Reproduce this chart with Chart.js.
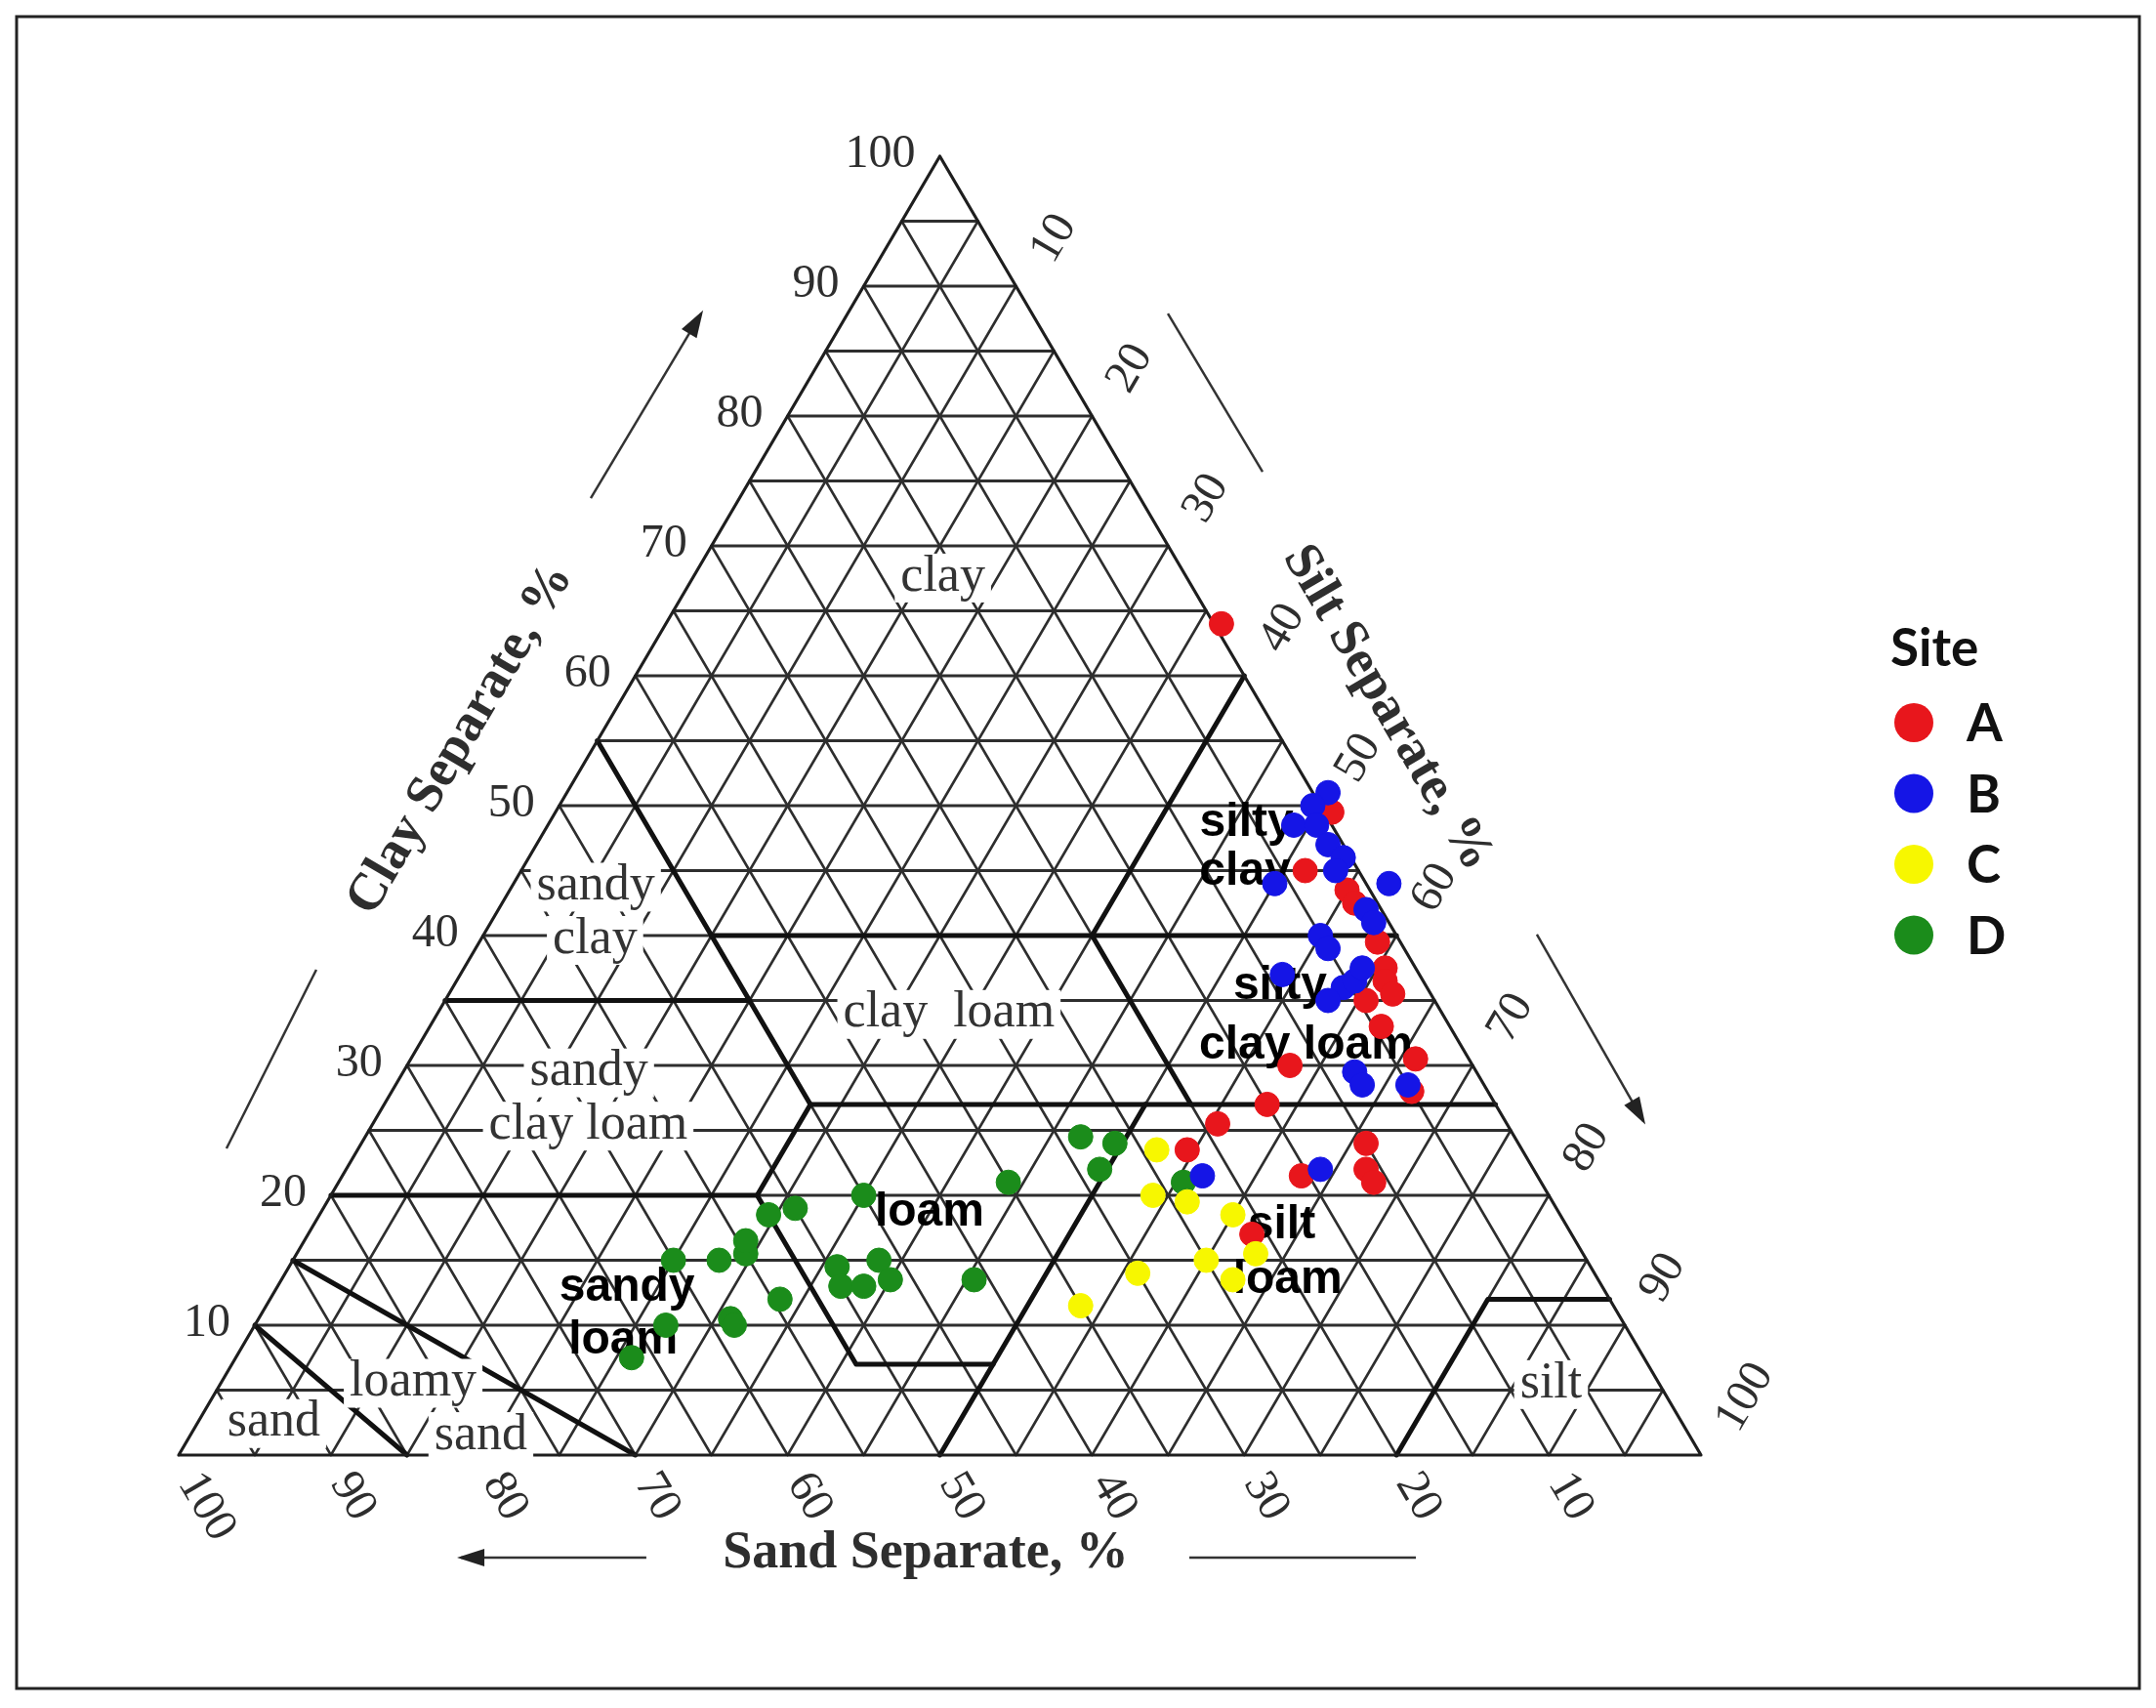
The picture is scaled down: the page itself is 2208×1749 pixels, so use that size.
<!DOCTYPE html>
<html>
<head>
<meta charset="utf-8">
<script src="https://cdn.jsdelivr.net/npm/chart.js@4.4.1/dist/chart.umd.min.js"></script>
<style>
html,body{margin:0;padding:0;background:#fff;overflow:hidden;}
canvas{display:block;}
</style>
</head>
<body>
<canvas id="c" width="2208" height="1749"></canvas>
<script>
// ---------------- DATA (clay %, silt %; sand = 100 - clay - silt) ----------------
const siteNames = ['A', 'B', 'C', 'D'];
const siteColors = ['#e8161c', '#1515e6', '#f7f700', '#1b8c1b'];

const clayA = [64, 45, 43.5, 42.5, 39.5, 49.5, 37.5, 36.5, 35.5, 35, 33, 30.5, 28, 30, 27, 25.5, 23.5, 24, 22, 21, 21.5, 17];
const siltA = [36.5, 51.5, 55, 56, 59, 51, 60.5, 61, 62, 60.5, 62.5, 66, 67, 58, 58, 55.5, 54.5, 66, 67, 68, 63, 62];

const clayB = [51, 50, 48.5, 48.5, 47, 46, 45, 44, 42, 41, 40, 39, 44, 37, 36, 35, 36.5, 37.5, 29.5, 28.5, 28.5, 21.5, 22];
const siltB = [50, 49.5, 49, 50.5, 52, 53.5, 53.5, 57.5, 57, 58, 55, 56, 50, 54, 58.5, 58, 59, 59, 62.5, 63.5, 66.5, 56.5, 64];

const clayC = [23.5, 20, 19.5, 18.5, 15.5, 15, 14, 11.5, 13.5];
const siltC = [52.5, 54, 56.5, 60, 63, 60, 56, 53.5, 62.5];

const clayD = [7.5, 10, 10.5, 10, 15, 15, 15.5, 16.5, 12, 18.5, 19, 14.5, 13, 13, 15, 13.5, 20, 13.5, 21, 24.5, 24, 22, 21];
const siltD = [26, 27, 31, 31.5, 25, 28, 29.5, 29, 33.5, 29.5, 31, 36, 37, 38.5, 38.5, 40, 35, 45.5, 44, 47, 49.5, 49.5, 55.5];

// tick labels on each side of the triangle
const clayTicks = [10, 20, 30, 40, 50, 60, 70, 80, 90, 100];
const siltTicks = [10, 20, 30, 40, 50, 60, 70, 80, 90, 100];
const sandTicks = [10, 20, 30, 40, 50, 60, 70, 80, 90, 100];
const gridSteps = [5, 10, 15, 20, 25, 30, 35, 40, 45, 50, 55, 60, 65, 70, 75, 80, 85, 90, 95];

// USDA texture-class boundaries as [clay, silt] vertices
const classBoundaries = [
  [[10, 0], [0, 15]],
  [[15, 0], [0, 30]],
  [[20, 0], [20, 28], [7, 41], [7, 50]],
  [[0, 50], [27, 50]],
  [[27, 28], [27, 73]],
  [[20, 28], [27, 28]],
  [[27, 28], [55, 0]],
  [[35, 0], [35, 20]],
  [[40, 15], [40, 60]],
  [[40, 40], [60, 40]],
  [[40, 40], [27, 53]],
  [[0, 80], [12, 80], [12, 88]]
];

// texture class names (printed) with [clay, silt] anchor
const classLabels = [
  ['clay', 67.6, 16.4],
  ['sandy', 43.8, 5.5], ['clay', 39.7, 7.5],
  ['clay  loam', 34.0, 33.6],
  ['sandy', 29.5, 12.2], ['clay loam', 25.4, 14.2],
  ['loamy', 5.6, 12.6],
  ['sand', 2.5, 5.0], ['sand', 1.5, 19.1],
  ['silt', 5.5, 87.4]
];
// overlay class names (bold)
const overlayLabels = [
  ['silty', 48.7, 45.8], ['clay', 44.9, 47.6],
  ['silty', 36.1, 54.3], ['clay loam', 31.5, 58.3],
  ['loam', 18.65, 40.0],
  ['sandy', 12.9, 23.0], ['loam', 8.8, 24.8],
  ['silt', 17.7, 63.6], ['loam', 13.5, 66.1]
];

// ---------------- helpers ----------------
function tern(clay, silt) { return { x: silt + clay / 2, y: clay }; }

const datasets = [];
const gridColor = '#2e2e2e';
function lineDs(pts, width, color, order) {
  return {
    data: pts, showLine: true, borderColor: color, borderWidth: width,
    pointRadius: 0, pointHoverRadius: 0, fill: false, order: order,
    clip: false, isDecor: true, borderCapStyle: 'round', borderJoinStyle: 'round'
  };
}
gridSteps.forEach(k => {
  datasets.push(lineDs([tern(k, 0), tern(k, 100 - k)], 3, gridColor, 4));
  datasets.push(lineDs([tern(0, k), tern(100 - k, k)], 2.6, gridColor, 4));
  datasets.push(lineDs([tern(0, 100 - k), tern(100 - k, 0)], 2.6, gridColor, 4));
});
datasets.push(lineDs([tern(0, 0), tern(0, 100), tern(100, 0), tern(0, 0)], 3.2, '#1e1e1e', 3));
classBoundaries.forEach(b => {
  datasets.push(lineDs(b.map(p => tern(p[0], p[1])), 5, '#111', 3));
});

const clayAll = [clayA, clayB, clayC, clayD];
const siltAll = [siltA, siltB, siltC, siltD];
siteNames.forEach((name, i) => {
  datasets.push({
    label: name,
    data: clayAll[i].map((c, j) => tern(c, siltAll[i][j])),
    backgroundColor: siteColors[i],
    borderColor: siteColors[i],
    borderWidth: 1,
    pointRadius: 12.5,
    pointHoverRadius: 12.5,
    showLine: false,
    clip: false,
    order: i === 0 ? 1 : 0,
    isSite: true
  });
});

// ---------------- plugin for texts, arrows, legend ----------------
let labelsDrawn = false;
const decorPlugin = {
  id: 'decor',
  beforeDatasetsDraw() { labelsDrawn = false; },
  beforeDatasetDraw(chart, args) {
    const ds = chart.data.datasets[args.index];
    if (!ds.isSite || labelsDrawn) return;
    labelsDrawn = true;
    const ctx = chart.ctx, xs = chart.scales.x, ys = chart.scales.y;
    const P = (c, s) => { const t = tern(c, s); return [xs.getPixelForValue(t.x), ys.getPixelForValue(t.y)]; };
    ctx.save();
    ctx.font = '52px "Liberation Serif"';
    ctx.textAlign = 'center';
    ctx.textBaseline = 'middle';
    classLabels.forEach(([t, c, s]) => {
      const [px, py] = P(c, s);
      const w = ctx.measureText(t).width;
      ctx.fillStyle = '#fff';
      ctx.fillRect(px - w / 2 - 6, py - 24, w + 12, 50);
    });
    ctx.fillStyle = '#333';
    classLabels.forEach(([t, c, s]) => {
      const [px, py] = P(c, s);
      ctx.fillText(t, px, py);
    });
    ctx.font = 'bold 48px "Liberation Sans"';
    ctx.fillStyle = '#000';
    overlayLabels.forEach(([t, c, s]) => {
      const [px, py] = P(c, s);
      ctx.fillText(t, px, py);
    });
    ctx.restore();
  },
  afterDraw(chart) {
    const ctx = chart.ctx, xs = chart.scales.x, ys = chart.scales.y;
    const X = v => xs.getPixelForValue(v), Y = v => ys.getPixelForValue(v);
    const ang = Math.atan2(Y(0) - Y(100), X(50) - X(0)); // slope of left edge
    ctx.save();
    // frame
    ctx.strokeStyle = '#222';
    ctx.lineWidth = 3;
    ctx.strokeRect(17, 17, 2174, 1712);

    // tick labels
    ctx.fillStyle = '#2e2e2e';
    ctx.font = '48px "Liberation Serif"';
    ctx.textBaseline = 'middle';
    ctx.textAlign = 'right';
    clayTicks.forEach(c => {
      ctx.fillText(String(c), X(c / 2) - 25, Y(c) - 2);
    });
    ctx.textAlign = 'left';
    siltTicks.forEach(s => {
      const c = 100 - s;
      const px = X(s + c / 2) + 27, py = Y(c) - 28;
      ctx.save(); ctx.translate(px, py); ctx.rotate(-ang);
      ctx.fillText(String(s), 0, 0); ctx.restore();
    });
    sandTicks.forEach(v => {
      const px = X(100 - v) + 10, py = Y(0) + 22;
      ctx.save(); ctx.translate(px, py); ctx.rotate(ang);
      ctx.fillText(String(v), 0, 0); ctx.restore();
    });

    // axis titles
    ctx.font = 'bold 54px "Liberation Serif"';
    ctx.textAlign = 'center';
    ctx.fillStyle = '#2e2e2e';
    ctx.fillText('Sand Separate, %', X(49.07), Y(-7.6));
    ctx.save(); ctx.translate(X(18.54), Y(55.1)); ctx.rotate(-ang);
    ctx.fillText('Clay Separate, %', 0, 0); ctx.restore();
    ctx.save(); ctx.translate(X(79.4), Y(57.5)); ctx.rotate(ang);
    ctx.fillText('Silt Separate, %', 0, 0); ctx.restore();

    // arrows and lines
    ctx.strokeStyle = '#333';
    ctx.fillStyle = '#222';
    ctx.lineWidth = 2.5;
    function seg(x1, y1, x2, y2, head) {
      const a = [X(x1), Y(y1)], b = [X(x2), Y(y2)];
      ctx.beginPath(); ctx.moveTo(a[0], a[1]); ctx.lineTo(b[0], b[1]); ctx.stroke();
      if (head) {
        const th = Math.atan2(b[1] - a[1], b[0] - a[0]);
        const L = 24, W = 9;
        ctx.beginPath();
        ctx.moveTo(b[0] + Math.cos(th) * 4, b[1] + Math.sin(th) * 4);
        ctx.lineTo(b[0] - Math.cos(th) * L + Math.sin(th) * W, b[1] - Math.sin(th) * L - Math.cos(th) * W);
        ctx.lineTo(b[0] - Math.cos(th) * L - Math.sin(th) * W, b[1] - Math.sin(th) * L + Math.cos(th) * W);
        ctx.closePath(); ctx.fill();
      }
    }
    seg(27.07, 73.68, 34.32, 87.89, true);
    seg(3.14, 23.61, 9.04, 37.37, false);
    seg(64.98, 87.89, 71.2, 75.71, false);
    seg(89.22, 40.08, 96.22, 25.71, true);
    seg(30.72, -7.89, 18.54, -7.89, true);
    seg(66.39, -7.89, 81.27, -7.89, false);

    // legend
    ctx.textAlign = 'left';
    ctx.textBaseline = 'alphabetic';
    ctx.fillStyle = '#111';
    ctx.font = 'bold 53px Lato';
    ctx.fillText('Site', 1936, 682);
    chart.data.datasets.filter(d => d.isSite).forEach((d, i) => {
      const cy = 740 + i * 72.5;
      ctx.beginPath();
      ctx.arc(1960, cy, 20, 0, Math.PI * 2);
      ctx.fillStyle = d.backgroundColor; ctx.fill();
      ctx.fillStyle = '#111';
      ctx.fillText(d.label, 2014, cy + 19);
    });
    ctx.restore();
  }
};

new Chart(document.getElementById('c'), {
  type: 'scatter',
  data: { datasets: datasets },
  options: {
    responsive: false,
    animation: false,
    devicePixelRatio: 1,
    layout: { padding: { left: 183, right: 466, top: 160, bottom: 259 } },
    scales: {
      x: { type: 'linear', min: 0, max: 100, display: false },
      y: { type: 'linear', min: 0, max: 100, display: false }
    },
    plugins: { legend: { display: false }, tooltip: { enabled: false } }
  },
  plugins: [decorPlugin]
});
</script>
</body>
</html>
